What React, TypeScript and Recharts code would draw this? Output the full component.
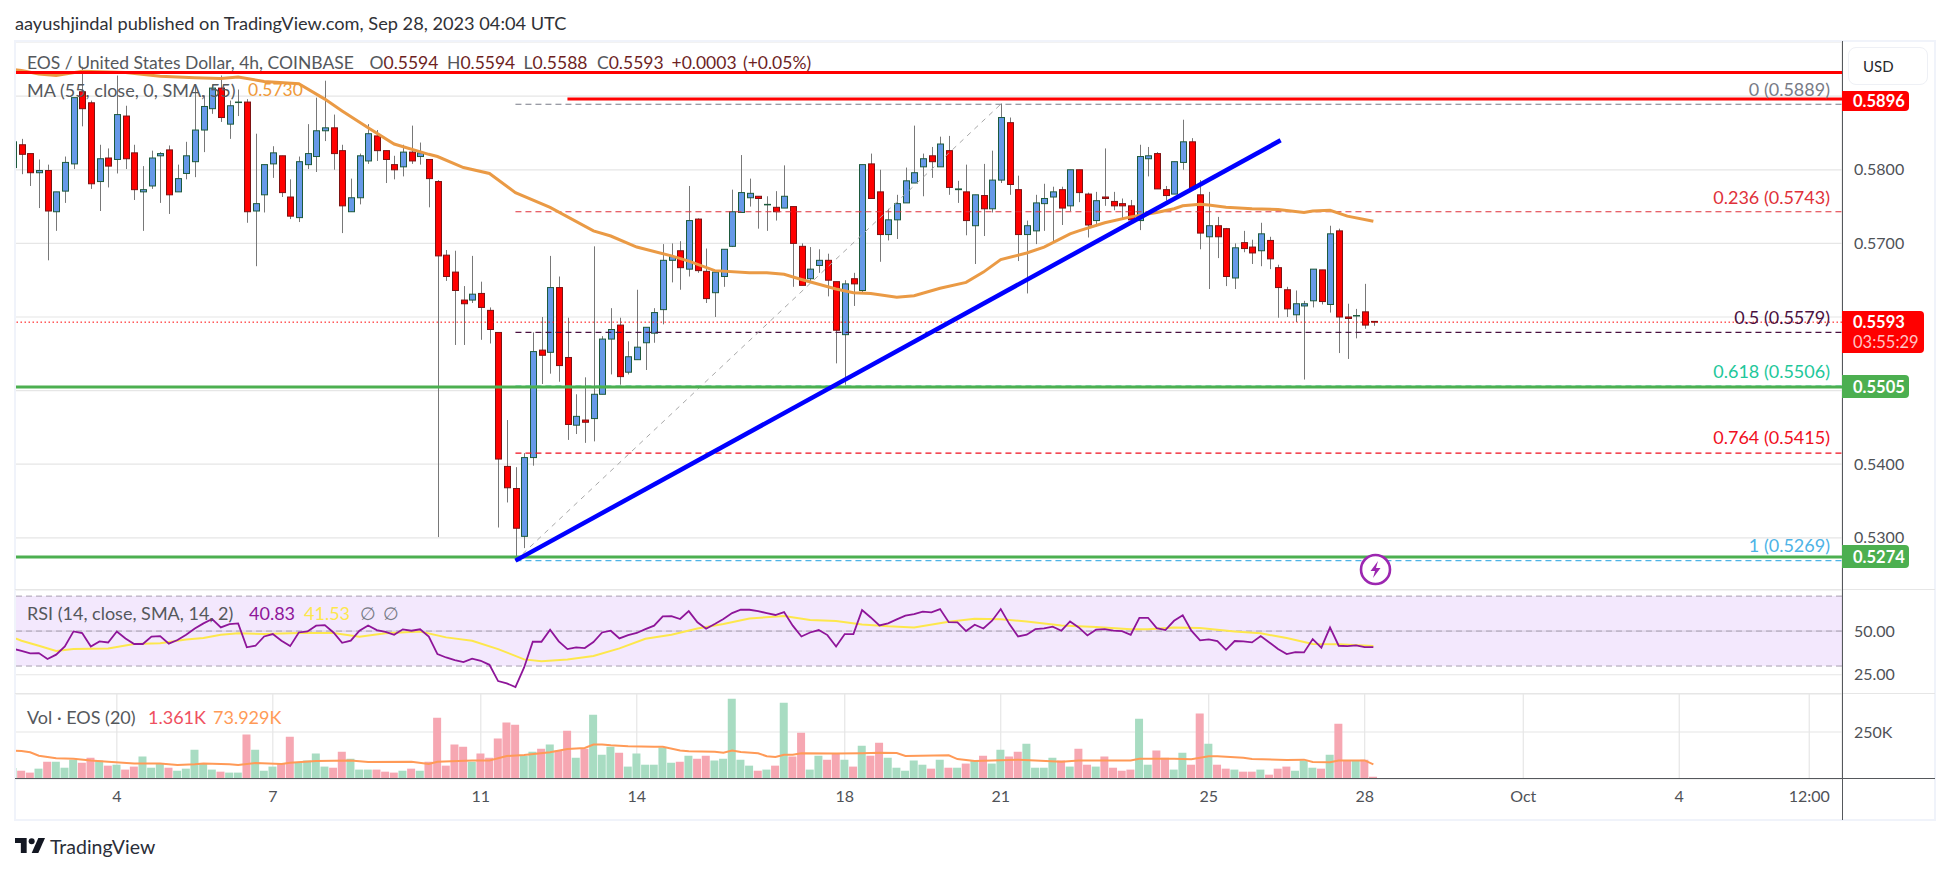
import React from "react";
import {
  ComposedChart, Bar, Line, XAxis, YAxis, CartesianGrid, ReferenceLine, ReferenceArea, Cell,
} from "recharts";

// Candle prices, in ten-thousandths of a dollar, from the first whole candle to the last
const opens = [5834,5822,5796,5799,5743,5771,5808,5906,5891,5784,5816,5814,5873,5823,5770,5778,5819,5827,5770,5795,5811,5854,5883,5911,5862,5892,5892,5744,5766,5808,5819,5763,5735,5807,5818,5853,5857,5826,5743,5762,5812,5846,5826,5807,5804,5824,5818,5814,5784,5684,5661,5623,5623,5632,5609,5579,5397,5367,5302,5409,5555,5552,5640,5545,5453,5460,5462,5495,5570,5589,5525,5542,5565,5578,5610,5677,5690,5665,5733,5662,5633,5655,5696,5742,5762,5764,5753,5749,5748,5750,5696,5652,5670,5677,5648,5576,5652,5636,5808,5770,5712,5732,5755,5782,5804,5819,5804,5826,5773,5770,5724,5765,5747,5786,5864,5773,5712,5717,5754,5763,5773,5751,5800,5767,5731,5763,5757,5754,5751,5731,5815,5822,5773,5767,5810,5838,5766,5709,5724,5720,5653,5701,5695,5690,5704,5667,5637,5603,5615,5622,5664,5617,5717,5600,5602,5607,5594];
const highs = [5842,5822,5814,5807,5770,5818,5898,5940,5894,5834,5829,5928,5887,5834,5805,5826,5824,5833,5807,5838,5915,5901,5916,5928,5894,5909,5896,5849,5807,5832,5819,5787,5818,5862,5898,5921,5875,5834,5788,5822,5862,5854,5826,5819,5834,5860,5837,5814,5786,5691,5690,5642,5683,5648,5613,5579,5460,5396,5415,5579,5600,5683,5655,5599,5495,5518,5696,5574,5612,5599,5567,5637,5586,5612,5699,5700,5703,5778,5734,5693,5661,5692,5773,5820,5788,5764,5764,5771,5806,5750,5700,5695,5692,5686,5648,5650,5660,5807,5822,5800,5747,5766,5803,5860,5822,5831,5845,5846,5785,5807,5766,5808,5826,5890,5871,5792,5731,5766,5781,5777,5777,5800,5800,5769,5770,5829,5770,5761,5759,5834,5831,5824,5778,5811,5868,5843,5786,5770,5736,5721,5700,5717,5705,5728,5709,5671,5641,5636,5622,5665,5664,5724,5720,5618,5611,5645,5594];
const lows = [5794,5778,5748,5677,5717,5755,5801,5859,5774,5744,5776,5795,5801,5759,5717,5774,5755,5740,5770,5787,5790,5824,5876,5865,5842,5873,5728,5669,5742,5789,5763,5733,5729,5801,5797,5839,5800,5714,5743,5753,5808,5812,5782,5787,5791,5808,5807,5749,5301,5649,5562,5562,5619,5569,5564,5314,5348,5269,5286,5398,5509,5523,5512,5433,5441,5429,5431,5495,5522,5508,5522,5542,5528,5565,5590,5647,5637,5655,5660,5619,5600,5641,5695,5742,5750,5720,5717,5731,5748,5641,5643,5646,5660,5628,5537,5508,5615,5632,5761,5675,5704,5706,5755,5782,5764,5789,5804,5766,5755,5711,5672,5710,5742,5782,5766,5676,5632,5699,5717,5701,5725,5744,5756,5708,5723,5751,5745,5732,5732,5718,5791,5774,5758,5767,5800,5772,5692,5638,5680,5642,5638,5688,5672,5669,5665,5599,5600,5593,5515,5613,5617,5606,5551,5543,5571,5584,5588];
const closes = [5821,5796,5799,5744,5770,5810,5898,5883,5781,5815,5805,5875,5815,5773,5773,5816,5822,5766,5788,5819,5854,5886,5911,5871,5887,5892,5743,5754,5807,5823,5769,5737,5811,5822,5853,5857,5822,5751,5762,5819,5849,5826,5814,5800,5824,5812,5823,5788,5683,5655,5636,5618,5631,5613,5583,5407,5368,5313,5409,5553,5548,5640,5534,5454,5465,5457,5495,5570,5583,5519,5546,5559,5586,5606,5677,5682,5667,5731,5663,5625,5661,5692,5743,5769,5768,5761,5753,5743,5764,5700,5643,5665,5677,5650,5582,5645,5645,5807,5761,5712,5732,5754,5785,5796,5815,5811,5835,5776,5774,5731,5766,5747,5786,5871,5780,5712,5724,5755,5761,5770,5748,5800,5769,5725,5758,5761,5751,5751,5732,5818,5819,5774,5765,5811,5838,5774,5714,5724,5709,5655,5694,5693,5687,5713,5679,5640,5611,5618,5618,5665,5621,5713,5600,5598,5602,5589,5593];

// Volume of each candle, in thousands
const volumes = [44,34,55,92,92,60,103,87,113,98,71,76,50,66,119,60,82,60,44,55,156,82,50,39,34,34,236,156,44,66,82,225,87,98,135,66,60,145,108,50,50,50,39,34,44,55,44,92,326,71,183,172,92,135,113,215,300,289,124,145,161,183,151,257,113,161,342,129,172,140,66,135,76,76,167,87,92,124,108,124,98,108,427,103,71,44,50,71,406,119,246,50,124,103,135,103,66,177,124,193,113,60,44,98,76,55,103,60,60,82,98,124,82,156,119,145,188,60,60,113,98,66,161,76,66,119,60,44,50,321,76,151,113,50,140,76,348,188,76,55,50,39,39,50,23,55,66,44,98,60,55,129,294,98,98,103,12];

// RSI of each candle
const rsiValues = [38.7,37.2,37.4,34,36.5,41.2,49.8,48.9,41.2,44.1,43.5,49.8,45.8,42.6,42.6,46.8,47.1,42.8,44.9,47.9,51.5,54.4,56.9,52.1,54,54.4,40.7,41.6,46.9,48.3,44.5,41.4,49.2,49.8,53.1,53.4,49.2,43.3,44.5,50.2,53.2,50.6,49.6,47.9,51,50.2,51,46.8,36.8,34.9,33.4,32.3,34.2,33,30.7,21.4,20.1,18,29.2,43.9,43.9,50.8,44.1,39.7,40.7,40.3,43.7,49.2,50.2,45.8,47.7,48.9,51.1,53.1,58.4,58.6,56.9,61.4,55,51.3,54,56.9,60.3,62.2,62.2,61.4,60.3,59.2,60.9,53.1,46.9,49.2,50.6,47.7,41.2,48.3,48.3,62,57.8,53.2,54.4,56.7,58.8,59.7,61.1,60.7,62.6,55.1,55,50,53.6,51.5,55.9,62.6,54,46.9,47.9,51.1,51.5,52.5,50.2,55.5,52.1,47.5,50.8,51.1,50.2,50,47.9,57.6,57.6,51.7,50.6,55.9,59,50.2,44.7,45.2,44.3,39.3,44.3,44.1,43.5,47.1,43.5,39.7,36.8,38,37.8,45.4,40.5,52.1,41.6,41.4,41.8,40.8,40.83];

// Averages were read at these candles only; the library joins them
const maIndexes = [-1,0,2,4,7,12,16,20,23,25,28,32,35,37,40,43,47,48,51,54,57,61,66,68,71,75,77,80,84,86,88,90,94,96,98,101,103,106,109,111,113,116,118,121,122,125,128,131,133,134,136,137,139,142,145,148,149,151,153,156];
const maValues = [5936,5935,5930,5928,5934,5932,5927,5925,5924,5926,5920,5917,5896,5880,5857,5835,5821,5818,5803,5795,5769,5749,5717,5710,5695,5683,5676,5663,5660,5660,5658,5651,5638,5633,5632,5627,5629,5639,5647,5661,5678,5687,5695,5713,5717,5728,5736,5742,5747,5751,5753,5752,5749,5747,5746,5742,5744,5745,5737,5730];
const rsiMaIndexes = [-1,0,2,4,6,10,13,16,19,21,23,25,28,32,36,39,42,46,49,52,55,58,60,63,66,69,72,75,78,81,84,88,91,94,97,100,103,107,110,113,116,120,124,128,130,133,136,140,143,146,149,152,156];
const rsiMaValues = [46.4,44.5,41.6,38.6,39.7,40.1,42.6,43.1,45.2,46,47.9,48.7,48.3,48.9,48.9,46.8,48.7,49.8,46.4,44.5,39.7,33.8,32.8,33.8,35.7,40.1,45.6,47.9,51.5,54,57.2,58.6,56.3,55.7,53.8,52.7,52.1,55.3,57.1,56.7,55.5,53.2,52.3,51.1,51.1,52.1,51.7,49.8,48.7,46,42.6,42.4,41.53];
const volMaIndexes = [-1,0,1,2,4,6,8,10,13,16,18,20,21,24,25,27,30,31,34,38,40,45,47,48,52,54,56,58,61,63,65,66,67,68,70,73,74,76,77,80,81,82,83,85,86,87,88,89,90,94,97,99,101,102,107,108,110,115,117,120,122,128,129,133,135,137,138,141,142,146,148,149,151,152,155,156];
const volMaValues = [151,149,142,124,110,108,98,92,83,83,74,78,83,78,74,85,80,87,96,98,90,92,80,92,98,98,122,128,142,160,165,183,184,179,174,172,172,152,147,145,140,151,144,137,121,117,129,129,137,135,137,140,138,122,126,106,96,103,99,92,99,98,108,108,105,121,121,113,106,101,103,90,89,98,99,78];

// The candle cut by the left edge
const edgeCandle = { x: -1, open: 5803, close: 5838, high: 5838, low: 5803, volume: 58, rsi: 39.9 };

// Ticks and drawn levels
const priceTicks = [0.53, 0.54, 0.55, 0.56, 0.57, 0.58, 0.59];
const coveredPriceTicks = [0.55, 0.56, 0.59]; // their labels are hidden behind the price tags
const rsiTicks = [25, 50];
const volumeTicks = [250];
const timeTicks = [11, 29, 53, 71, 95, 113, 137, 155, 173.3, 191.3, 206.3];
const timeLabels = ["4", "7", "11", "14", "18", "21", "25", "28", "Oct", "4", "12:00"];
const lastPrice = 0.5593;
const resistanceHigh = 0.5932;
const resistanceLow = 0.5896;
const supportHigh = 0.5505;
const supportLow = 0.5274;
const fibLevels = [
  { ratio: "0", price: 0.5889, color: "#787b86" },
  { ratio: "0.236", price: 0.5743, color: "#e0313a" },
  { ratio: "0.5", price: 0.5579, color: "#4a1040" },
  { ratio: "0.618", price: 0.5506, color: "#22c79a" },
  { ratio: "0.764", price: 0.5415, color: "#f00f1e" },
  { ratio: "1", price: 0.5269, color: "#4db3e6" },
];

const FONT = "Lato, 'Open Sans', sans-serif";
const GRID = "#e6e6e6";
const TEXT = "#4f5257";
const X_MIN = -0.75;
const X_MAX = 210.08;
const FIB_START = 57;
const FIB_END = 113;
const LINE_END = 145.3;
const LINE_END_PRICE = 0.584;
const RES2_START = 63;

const indexes = opens.map((_, i) => i);
const lookup = (keys: number[], vals: number[], i: number) => {
  const k = keys.indexOf(i);
  return k < 0 ? null : vals[k];
};
const rows = [
  edgeCandle,
  ...indexes.map((i) => ({
    x: i,
    open: opens[i],
    high: highs[i],
    low: lows[i],
    close: closes[i],
    volume: volumes[i],
    rsi: rsiValues[i],
  })),
].map((r) => ({
  ...r,
  range: [r.low / 10000, r.high / 10000],
  open: r.open / 10000,
  high: r.high / 10000,
  low: r.low / 10000,
  close: r.close / 10000,
  ma: (() => {
    const v = lookup(maIndexes, maValues, r.x);
    return v === null ? null : v / 10000;
  })(),
  rsiMa: lookup(rsiMaIndexes, rsiMaValues, r.x),
  volMa: lookup(volMaIndexes, volMaValues, r.x),
}));

function Candle(props: any) {
  const { x, y, width, height, payload } = props;
  const { open, close, high, low } = payload;
  const span = high - low || 1e-9;
  const py = (v: number) => y + ((high - v) / span) * height;
  const up = close >= open;
  const top = py(Math.max(open, close));
  const bot = py(Math.min(open, close));
  const cx = Math.round(x + width / 2) + 0.5;
  return (
    <g>
      <line x1={cx} x2={cx} y1={y} y2={y + height} stroke="#787878" strokeWidth={1} />
      <rect
        x={cx - 3}
        y={top}
        width={6}
        height={Math.max(bot - top, 0.5)}
        fill={up ? "#6699e8" : "#ff0000"}
        stroke={up ? "#1d5a3c" : "#7d1212"}
        strokeWidth={1}
      />
    </g>
  );
}

const axisProps = { tickLine: false, axisLine: false } as const;
const yTick = { fontFamily: FONT, fontSize: 16, fill: TEXT };

const xAxis = (show: boolean) => (
  <XAxis
    dataKey="x"
    type="number"
    domain={[X_MIN, X_MAX]}
    allowDataOverflow
    ticks={timeTicks}
    interval={0}
    height={show ? 41 : 0}
    tick={show ? { fontFamily: FONT, fontSize: 16, fill: TEXT } : false}
    tickFormatter={(v: number) => timeLabels[timeTicks.indexOf(v)]}
    tickMargin={6}
    {...axisProps}
  />
);

const Label = ({ x, y, color, children, size = 18, weight = 400 }: any) => (
  <div
    style={{
      position: "absolute", left: x, top: y, transform: "translateY(-50%)", color,
      fontFamily: FONT, fontSize: size, fontWeight: weight, whiteSpace: "nowrap", lineHeight: 1,
    }}
  >
    {children}
  </div>
);

const PriceTag = ({ top, height, width, color, children }: any) => (
  <div
    style={{
      position: "absolute", left: 1842, top, height, width, background: color,
      borderRadius: "0 4px 4px 0", color: "#fff", fontFamily: FONT, fontSize: 16.5, fontWeight: 700,
      paddingLeft: 11, boxSizing: "border-box", display: "flex", flexDirection: "column", justifyContent: "center", lineHeight: "20px",
    }}
  >
    {children}
  </div>
);

const hline = (top: number, color: string, h = 1, left = 15, width = 1920) => (
  <div style={{ position: "absolute", left, top, width, height: h, background: color }} />
);

export default function App() {
  const plotW = 1920;
  return (
    <div style={{ position: "absolute", left: 0, top: 0, width: 1950, height: 873, background: "#fff", overflow: "hidden" }}>
      <Label x={15} y={23} color="#2f3136" size={18.2}>
        aayushjindal published on TradingView.com, Sep 28, 2023 04:04 UTC
      </Label>

      <div style={{ position: "absolute", left: 15, top: 41.5 }}>
        <ComposedChart width={plotW} height={548} data={rows} margin={{ top: 0, right: 0, bottom: 0, left: 0 }}>
          <CartesianGrid stroke={GRID} strokeWidth={1.2} />
          {xAxis(false)}
          <YAxis
            orientation="right"
            width={93}
            domain={[0.52291, 0.59736]}
            ticks={priceTicks}
            interval={0}
            tick={yTick}
            tickMargin={6}
            tickFormatter={(v: number) => (coveredPriceTicks.includes(v) ? "" : v.toFixed(4))}
            {...axisProps}
          />
          <ReferenceLine y={lastPrice} stroke="#ff0000" strokeDasharray="1.5 2.5" />
          {fibLevels.map((f) => (
            <ReferenceLine
              key={f.ratio}
              segment={[{ x: FIB_START, y: f.price }, { x: X_MAX, y: f.price }]}
              stroke={f.color}
              strokeWidth={1.2}
              strokeDasharray="6 4"
            />
          ))}
          <Bar dataKey="range" barSize={7} shape={<Candle />} isAnimationActive={false} />
          <Line dataKey="ma" stroke="#ea9a45" strokeWidth={3} dot={false} connectNulls isAnimationActive={false} />
          <ReferenceLine
            segment={[{ x: FIB_START, y: fibLevels[5].price }, { x: FIB_END, y: fibLevels[0].price }]}
            stroke="#a8a8a8"
            strokeDasharray="5 5"
          />
          <ReferenceLine y={resistanceHigh} stroke="#ff0000" strokeWidth={3} />
          <ReferenceLine
            segment={[{ x: RES2_START, y: resistanceLow }, { x: X_MAX, y: resistanceLow }]}
            stroke="#ff0000"
            strokeWidth={3}
          />
          <ReferenceLine y={supportHigh} stroke="#4caf50" strokeWidth={3} />
          <ReferenceLine y={supportLow} stroke="#4caf50" strokeWidth={3} />
          <ReferenceLine
            segment={[{ x: FIB_START, y: fibLevels[5].price }, { x: LINE_END, y: LINE_END_PRICE }]}
            stroke="#0000ff"
            strokeWidth={4.5}
          />
        </ComposedChart>
      </div>

      <div style={{ position: "absolute", left: 15, top: 589.5 }}>
        <ComposedChart width={plotW} height={104} data={rows} margin={{ top: 0, right: 0, bottom: 0, left: 0 }}>
          <CartesianGrid stroke={GRID} strokeWidth={1.2} />
          {xAxis(false)}
          <YAxis
            orientation="right"
            width={93}
            domain={[14, 73.5]}
            ticks={rsiTicks}
            interval={0}
            tick={yTick}
            tickMargin={6}
            tickFormatter={(v: number) => v.toFixed(2)}
            {...axisProps}
          />
          <ReferenceArea y1={30} y2={70} fill="rgb(150,50,240)" fillOpacity={0.11} stroke="none" />
          <ReferenceLine y={70} stroke="#a89fb0" strokeDasharray="6 4" />
          <ReferenceLine y={50} stroke="#a89fb0" strokeDasharray="6 4" />
          <ReferenceLine y={30} stroke="#a89fb0" strokeDasharray="6 4" />
          <Line dataKey="rsiMa" stroke="#fde74c" strokeWidth={2} dot={false} connectNulls isAnimationActive={false} />
          <Line dataKey="rsi" stroke="#8e1599" strokeWidth={1.8} dot={false} isAnimationActive={false} />
        </ComposedChart>
      </div>

      <div style={{ position: "absolute", left: 15, top: 693.5 }}>
        <ComposedChart width={plotW} height={126} data={rows} margin={{ top: 0, right: 0, bottom: 0, left: 0 }}>
          <CartesianGrid stroke={GRID} strokeWidth={1.2} />
          {xAxis(true)}
          <YAxis
            orientation="right"
            width={93}
            domain={[0, 452]}
            ticks={volumeTicks}
            interval={0}
            tick={yTick}
            tickMargin={6}
            tickFormatter={(v: number) => `${v}K`}
            {...axisProps}
          />
          <Bar dataKey="volume" barSize={8} isAnimationActive={false}>
            {rows.map((r) => (
              <Cell key={r.x} fill={r.close >= r.open ? "#a8dcc2" : "#f6a7b2"} />
            ))}
          </Bar>
          <Line dataKey="volMa" stroke="#ff9a57" strokeWidth={2} dot={false} connectNulls isAnimationActive={false} />
        </ComposedChart>
      </div>

      {/* frame */}
      {hline(40, "#f0f3fa", 2, 14, 1922)}
      {hline(819, "#f0f3fa", 2, 14, 1922)}
      <div style={{ position: "absolute", left: 14, top: 40, width: 2, height: 781, background: "#f0f3fa" }} />
      <div style={{ position: "absolute", left: 1934, top: 40, width: 2, height: 781, background: "#f0f3fa" }} />
      {hline(589, GRID, 1.2)}
      {hline(693, GRID, 1.2)}
      {hline(778, "#55585c", 1.4)}
      <div style={{ position: "absolute", left: 1842, top: 41, width: 1.4, height: 779, background: "#55585c" }} />

      {/* legends */}
      <Label x={27} y={63} color="#55585c" size={17.5}>EOS / United States Dollar, 4h, COINBASE</Label>
      {[
        { x: 369.5, k: "O", v: "0.5594" },
        { x: 447, k: "H", v: "0.5594" },
        { x: 523.6, k: "L", v: "0.5588" },
        { x: 597, k: "C", v: "0.5593" },
      ].map((d) => (
        <Label key={d.k} x={d.x} y={63} color="#6e1f1f" size={17.5}>
          <span style={{ color: "#55585c" }}>{d.k}</span>{d.v}
        </Label>
      ))}
      <Label x={671.5} y={63} color="#6e1f1f" size={17.5}>+0.0003</Label>
      <Label x={743} y={63} color="#6e1f1f" size={17.5}>(+0.05%)</Label>
      <Label x={27} y={90} color="#55585c">MA (55, close, 0, SMA, 55)</Label>
      <Label x={248} y={90} color="#ef9a3a" size={17.5}>0.5730</Label>
      <Label x={27} y={613} color="#55585c">RSI (14, close, SMA, 14, 2)</Label>
      <Label x={249} y={613} color="#8e1599">40.83</Label>
      <Label x={304} y={613} color="#fde74c">41.53</Label>
      <Label x={360} y={613} color="#787b86">∅</Label>
      <Label x={383} y={613} color="#787b86">∅</Label>
      <Label x={27} y={717} color="#55585c">Vol · EOS (20)</Label>
      <Label x={148} y={717} color="#ef5060">1.361K</Label>
      <Label x={213} y={717} color="#ff9a57">73.929K</Label>

      {/* fibonacci labels */}
      {fibLevels.map((f, i) => (
        <div
          key={f.ratio}
          style={{
            position: "absolute", right: 1950 - 1830, top: [89, 196.7, 316.7, 371, 436.7, 545][i],
            transform: "translateY(-50%)", color: f.color, fontFamily: FONT, fontSize: 18, lineHeight: 1, whiteSpace: "nowrap",
          }}
        >
          {f.ratio} ({f.price.toFixed(4)})
        </div>
      ))}

      {/* price tags */}
      <PriceTag top={91} height={20} width={67} color="#ff0000">0.5896</PriceTag>
      <PriceTag top={311} height={42} width={82} color="#ff0000">
        <span>0.5593</span>
        <span style={{ fontWeight: 400, color: "#ffc4c4" }}>03:55:29</span>
      </PriceTag>
      <PriceTag top={375} height={23} width={67} color="#4caf50">0.5505</PriceTag>
      <PriceTag top={545} height={23} width={67} color="#4caf50">0.5274</PriceTag>

      {/* currency button */}
      <div
        style={{
          position: "absolute", left: 1848, top: 47, width: 80, height: 38, border: "1px solid #eef0f5", borderRadius: 8,
          boxSizing: "border-box", fontFamily: FONT, fontSize: 15, color: "#26282c", lineHeight: "36px", paddingLeft: 14,
        }}
      >
        USD
      </div>

      {/* event marker */}
      <svg style={{ position: "absolute", left: 1359, top: 553 }} width={33} height={33} viewBox="0 0 33 33">
        <circle cx={16.5} cy={16.5} r={14.5} fill="#fff" stroke="#9c27b0" strokeWidth={2.6} />
        <path d="M19 8 L11.5 18 H16 L14 25 L21.5 15 H17 Z" fill="#9c27b0" />
      </svg>

      {/* logo */}
      <svg style={{ position: "absolute", left: 15, top: 838 }} width={30} height={15} viewBox="0 0 36 18">
        <path d="M14 0H0v6h7v12h7V0z" fill="#131722" />
        <circle cx={20} cy={4} r={3.6} fill="#131722" />
        <path d="M28 0h8l-8 18h-8l8-18z" fill="#131722" />
      </svg>
      <Label x={50} y={847} color="#2a2e39" size={19.5}>TradingView</Label>
    </div>
  );
}
